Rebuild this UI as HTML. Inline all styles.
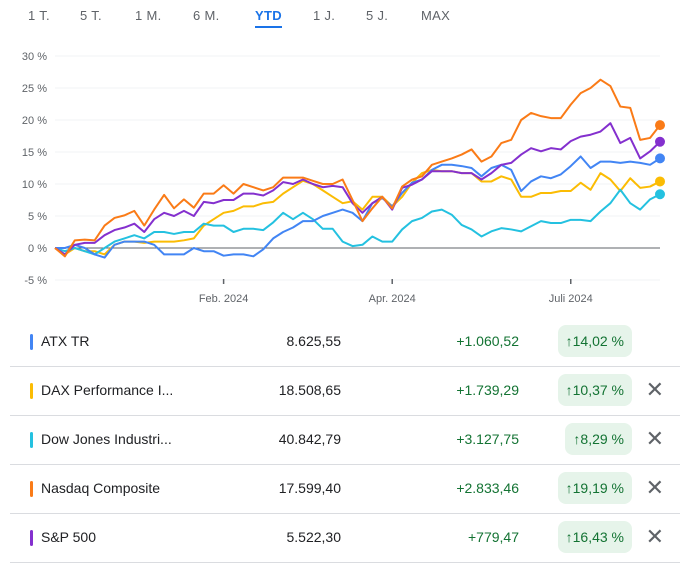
<!DOCTYPE html>
<html><head><meta charset="utf-8"><style>
body{margin:0;width:689px;height:570px;background:#fff;font-family:"Liberation Sans",Arial,sans-serif;overflow:hidden;position:relative}
.tab{position:absolute;top:8px;font-size:13px;color:#5f6368;letter-spacing:.3px}
.tab.active{color:#1a73e8;font-weight:bold}
.row{position:absolute;left:10px;width:670px;height:49px;border-bottom:1px solid #dadce0}
.bar{position:absolute;left:20px;top:17px;width:3px;height:16px;border-radius:2px}
.name{position:absolute;left:31px;top:16px;font-size:14px;color:#202124}
.price{position:absolute;right:339px;top:16px;font-size:14px;color:#202124}
.chg{position:absolute;right:161px;top:16px;font-size:14px;color:#137333}
.pill{position:absolute;right:48px;top:8px;height:32px;line-height:32px;padding:0 8px;background:#e6f4ea;border-radius:8px;font-size:14px;color:#137333}
.x{position:absolute;right:16px;top:11px;font-size:22px;color:#5f6368;line-height:26px}
</style></head><body>
<div class="tab" style="left:28px">1 T.</div>
<div class="tab" style="left:80px">5 T.</div>
<div class="tab" style="left:135px">1 M.</div>
<div class="tab" style="left:193px">6 M.</div>
<div class="tab active" style="left:255px">YTD</div>
<div style="position:absolute;left:255px;top:26px;width:27px;height:2px;background:#1a73e8"></div>
<div class="tab" style="left:313px">1 J.</div>
<div class="tab" style="left:366px">5 J.</div>
<div class="tab" style="left:421px">MAX</div>
<svg id="chart" width="689" height="315" style="position:absolute;left:0;top:0"></svg>

<div class="row" style="top:317px"><div class="bar" style="background:#4285f4"></div><div class="name">ATX TR</div><div class="price">8.625,55</div><div class="chg">+1.060,52</div><div class="pill">↑14,02 %</div></div>
<div class="row" style="top:366px"><div class="bar" style="background:#fbbc04"></div><div class="name">DAX Performance I...</div><div class="price">18.508,65</div><div class="chg">+1.739,29</div><div class="pill">↑10,37 %</div><div class="x">✕</div></div>
<div class="row" style="top:415px"><div class="bar" style="background:#24c1e0"></div><div class="name">Dow Jones Industri...</div><div class="price">40.842,79</div><div class="chg">+3.127,75</div><div class="pill">↑8,29 %</div><div class="x">✕</div></div>
<div class="row" style="top:464px"><div class="bar" style="background:#fa7b17"></div><div class="name">Nasdaq Composite</div><div class="price">17.599,40</div><div class="chg">+2.833,46</div><div class="pill">↑19,19 %</div><div class="x">✕</div></div>
<div class="row" style="top:513px"><div class="bar" style="background:#8430ce"></div><div class="name">S&amp;P 500</div><div class="price">5.522,30</div><div class="chg">+779,47</div><div class="pill">↑16,43 %</div><div class="x">✕</div></div>

<script>
const yTicks=[-5,0,5,10,15,20,25,30];
const xLabels=["Feb. 2024","Apr. 2024","Juli 2024"];
const xLabelIdx=[17,34,52];
const nasdaq=[0,-1.3,1.2,1.3,1.2,3.5,4.7,5.1,5.8,3.5,6,8.3,6.2,7.6,6.3,8.5,8.5,9.8,8.5,10,9.5,9,9.5,11,11,11,10.5,10,10,10.7,7.5,4.2,6.2,8,6.2,9.6,10.7,11.2,13,13.5,14,14.6,15.4,13.5,14.3,16.4,16.9,20,21.1,20.6,20.3,20.3,22.4,24.2,25,26.3,25.3,22.1,21.9,16.9,17.2,19.2];
const sp500=[0,-1,0.5,0.8,0.8,2,2.8,3.2,3.8,2.5,4.5,5.5,5,5.8,5,7.2,7,7.5,7.5,8.5,8.5,8.2,9,10.3,10,10.7,10,9.5,9.7,9.5,7,5.5,7,8,6,9.4,9.9,10.7,12,12,12,11.7,11.7,10.7,11.7,13,13.3,14.6,15.6,15.1,15.6,15.4,16.7,17.4,17.7,18.2,19.5,16.4,17.2,14,15.1,16.6];
const dax=[0,-1,0,-0.5,-0.5,-1,0.5,1,1,0.8,1,1,1,1.2,1.5,3.5,4.5,5.5,5.8,6.5,6.5,7,7.2,8.5,9.5,10.5,10,9,8,7,7.3,6,8,8,6.5,8,10.2,11.7,12.2,12,12,11.7,11.7,10.4,10.4,11.2,10.7,8,8,8.6,8.6,8.9,8.9,10.2,9.1,11.7,10.7,8.9,10.9,9.4,9.6,10.4];
const atx=[0,0,0.5,0,-1,-1.5,0.5,1,1,1,0.5,-1,-1,-1,0,-0.5,-0.5,-1.2,-1,-1,-1.3,-0.2,1.5,2.5,3.2,4.2,4.2,5,5.5,6,5.5,4.2,7,7.8,6.5,8.6,10.2,10.7,12.2,13,13,12.8,12.5,11.2,12.5,13,12.2,8.9,10.4,11.2,10.9,11.5,12.8,14.3,12.5,13.5,13.5,13.3,13.5,13.3,13,14];
const dow=[0,-0.5,0,-0.5,-1,0,1,1.5,2,1.5,2.5,2.5,2.2,2.5,2.5,3.8,3.5,3.5,2.5,3,3,2.8,4,5.5,4.5,5.5,4.5,3,3,1,0.3,0.5,1.8,1,1,2.9,4.2,4.7,5.7,6,5.2,3.6,2.9,1.8,2.6,3.1,2.9,2.6,3.4,4.2,3.9,3.9,4.4,4.4,4.2,5.7,7,9.1,7,6,7.6,8.4];
const seriesList=[["dax",dax,"#fbbc04"],["dow",dow,"#24c1e0"],["atx",atx,"#4285f4"],["sp500",sp500,"#8430ce"],["nasdaq",nasdaq,"#fa7b17"]];
const NS="http://www.w3.org/2000/svg",svg=document.getElementById("chart");
const X0=55,X1=660,N=nasdaq.length;
const xs=i=>X0+i*(X1-X0)/(N-1);
const ys=v=>248-v*6.4;
function mk(t,a){const e=document.createElementNS(NS,t);for(const k in a)e.setAttribute(k,a[k]);svg.appendChild(e);return e;}
yTicks.forEach(t=>{
 const g=mk("line",{x1:55,x2:660,y1:ys(t),y2:ys(t),stroke:t===0?"#5f6368":"#f1f3f4","stroke-width":1});
 
 
 const l=mk("text",{x:47,y:ys(t)+4,"text-anchor":"end","font-size":11,fill:"#5f6368","font-family":"Liberation Sans, sans-serif"});
 l.textContent=t+" %";
 
 
});
xLabels.forEach((s,k)=>{
 const x=xs(xLabelIdx[k]);
 const tk=mk("line",{x1:x,x2:x,y1:279,y2:284,stroke:"#5f6368","stroke-width":1.5});
 
 
 const l=mk("text",{x:x,y:302,"text-anchor":"middle","font-size":11,fill:"#5f6368","font-family":"Liberation Sans, sans-serif"});
 l.textContent=s;
 
 
});
seriesList.forEach(([n,d,c])=>{
 const p=mk("polyline",{points:d.map((v,i)=>xs(i)+","+ys(v)).join(" "),fill:"none",stroke:c,"stroke-width":2,"stroke-linejoin":"round"});
 
 
});
seriesList.forEach(([n,d,c])=>{
 const dot=mk("circle",{cx:xs(d.length-1),cy:ys(d[d.length-1]),r:5,fill:c});
 
 
});
</script>
</body></html>
